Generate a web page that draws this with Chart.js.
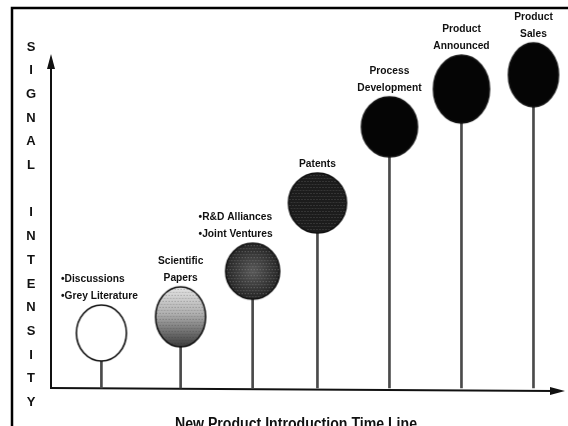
<!DOCTYPE html>
<html>
<head>
<meta charset="utf-8">
<script src="https://cdn.jsdelivr.net/npm/chart.js@4.4.0/dist/chart.umd.min.js"></script>
<style>
  html, body { margin: 0; padding: 0; background: #fff; }
  canvas { display: block; }
</style>
</head>
<body>
<canvas id="timeline" width="568" height="426"></canvas>
<script>
// stages along the time line, left to right
const stages = [
    ['•Discussions', '•Grey Literature'],
    ['Scientific', 'Papers'],
    ['•R&D Alliances', '•Joint Ventures'],
    ['Patents'],
    ['Process', 'Development'],
    ['Product', 'Announced'],
    ['Product', 'Sales']
];
const timePos = [0.7, 1.8, 2.8, 3.7, 4.7, 5.7, 6.7];
const intensity = [16.6, 21.5, 35.3, 55.9, 78.9, 90.3, 94.6];
const yTitle = 'SIGNAL INTENSITY';
const xTitle = 'New Product Introduction Time Line';

// look of each blob (fill and half-axes in px)
const shades = ['open', 'fade', 'mid', 'dark', 'solid', 'solid', 'solid'];
const blobSize = [[25, 28], [25, 30], [27, 28], [29, 30], [28, 30], [28, 34], [25, 32]];

const INK = '#111';
const LABEL_FONT = "bold 11px 'Liberation Sans', sans-serif";

function dots(ctx, w, h, color, step) {
    ctx.fillStyle = color;
    for (let y = 1; y < h; y += step) {
        for (let x = ((y / step) % 2) * (step / 2) + 1; x < w; x += step) {
            ctx.fillRect(x, y, 1, 1);
        }
    }
}

function makeBlob(shade, rx, ry) {
    const c = document.createElement('canvas');
    c.width = rx * 2 + 4;
    c.height = ry * 2 + 4;
    const ctx = c.getContext('2d');
    const cx = c.width / 2, cy = c.height / 2;
    ctx.beginPath();
    ctx.ellipse(cx, cy, rx, ry, 0, 0, Math.PI * 2);
    ctx.save();
    ctx.clip();
    if (shade === 'open') {
        ctx.fillStyle = '#fff';
        ctx.fillRect(0, 0, c.width, c.height);
    } else if (shade === 'fade') {
        const g = ctx.createLinearGradient(0, cy - ry, 0, cy + ry);
        g.addColorStop(0, '#e4e4e4');
        g.addColorStop(0.45, '#b0b0b0');
        g.addColorStop(1, '#3c3c3c');
        ctx.fillStyle = g;
        ctx.fillRect(0, 0, c.width, c.height);
        dots(ctx, c.width, c.height, 'rgba(40,40,40,0.35)', 3);
    } else if (shade === 'mid') {
        const g = ctx.createRadialGradient(cx, cy, 2, cx, cy, rx);
        g.addColorStop(0, '#555');
        g.addColorStop(1, '#262626');
        ctx.fillStyle = g;
        ctx.fillRect(0, 0, c.width, c.height);
        dots(ctx, c.width, c.height, 'rgba(170,170,170,0.5)', 3);
    } else if (shade === 'dark') {
        ctx.fillStyle = '#1c1c1c';
        ctx.fillRect(0, 0, c.width, c.height);
        dots(ctx, c.width, c.height, 'rgba(110,110,110,0.6)', 3);
    } else {
        ctx.fillStyle = '#050505';
        ctx.fillRect(0, 0, c.width, c.height);
    }
    ctx.restore();
    ctx.lineWidth = 1.6;
    ctx.strokeStyle = INK;
    ctx.stroke();
    return c;
}

const blobs = shades.map((s, i) => makeBlob(s, blobSize[i][0], blobSize[i][1]));
const points = timePos.map((x, i) => ({ x, y: intensity[i] }));

const decorPlugin = {
    id: 'decor',
    beforeDatasetsDraw(chart) {
        const { ctx, chartArea: a } = chart;
        ctx.save();
        ctx.strokeStyle = INK;
        ctx.fillStyle = INK;
        ctx.lineWidth = 2;
        // y axis with arrow
        ctx.beginPath();
        ctx.moveTo(a.left, a.bottom);
        ctx.lineTo(a.left, a.top + 8);
        ctx.stroke();
        ctx.beginPath();
        ctx.moveTo(a.left, a.top - 3);
        ctx.lineTo(a.left - 4, a.top + 12);
        ctx.lineTo(a.left + 4, a.top + 12);
        ctx.closePath();
        ctx.fill();
        // x axis with arrow
        ctx.beginPath();
        ctx.moveTo(a.left - 1, a.bottom);
        ctx.lineTo(a.right - 8, a.bottom + 3);
        ctx.stroke();
        ctx.beginPath();
        ctx.moveTo(a.right + 2, a.bottom + 3);
        ctx.lineTo(a.right - 13, a.bottom - 1);
        ctx.lineTo(a.right - 13, a.bottom + 7);
        ctx.closePath();
        ctx.fill();
        ctx.restore();
    },
    afterDatasetsDraw(chart) {
        const { ctx } = chart;
        const meta = chart.getDatasetMeta(0);
        ctx.save();
        ctx.fillStyle = INK;
        ctx.font = LABEL_FONT;
        ctx.textBaseline = 'middle';
        meta.data.forEach((el, i) => {
            const lines = stages[i];
            const top = el.y - blobSize[i][1];
            const bulleted = lines[0].startsWith('•');
            const w = Math.max(...lines.map(t => ctx.measureText(t).width)) * 0.93;
            lines.forEach((t, j) => {
                const y = top - 9 - (lines.length - 1 - j) * 17;
                const tw = ctx.measureText(t).width * 0.93;
                if (bulleted) {
                    ctx.textAlign = 'left';
                    ctx.fillText(t, el.x - w / 2 - (i === 2 ? 17 : 2), y, tw);
                } else {
                    ctx.textAlign = 'center';
                    ctx.fillText(t, el.x, y, tw);
                }
            });
        });

        // stacked y title
        ctx.font = "bold 13px 'Liberation Sans', sans-serif";
        ctx.textAlign = 'center';
        [...yTitle].forEach((ch, i) => {
            if (ch !== ' ') ctx.fillText(ch, 31, 47 + i * 23.7);
        });

        // x title
        ctx.font = "bold 16px 'Liberation Sans', sans-serif";
        ctx.textBaseline = 'alphabetic';
        ctx.fillText(xTitle, 296, 429, 242);

        // frame
        ctx.strokeStyle = '#000';
        ctx.lineWidth = 2.5;
        ctx.beginPath();
        ctx.moveTo(12, chart.height + 2);
        ctx.lineTo(12, 8);
        ctx.lineTo(chart.width + 2, 8);
        ctx.stroke();
        ctx.restore();
    }
};

new Chart(document.getElementById('timeline'), {
    type: 'scatter',
    data: {
        datasets: [
            {
                type: 'scatter',
                data: points,
                pointStyle: blobs,
                clip: false,
                order: 0
            },
            {
                type: 'bar',
                data: points,
                backgroundColor: '#4a4a4a',
                barThickness: 2,
                borderWidth: 0,
                clip: false,
                order: 1
            }
        ]
    },
    options: {
        responsive: false,
        animation: false,
        events: [],
        layout: { padding: { left: 51, right: 5, top: 57, bottom: 38 } },
        plugins: { legend: { display: false }, tooltip: { enabled: false } },
        scales: {
            x: { type: 'linear', display: false, offset: false, min: 0, max: 7.11 },
            y: { display: false, min: 0, max: 100 }
        }
    },
    plugins: [decorPlugin]
});
</script>
</body>
</html>
